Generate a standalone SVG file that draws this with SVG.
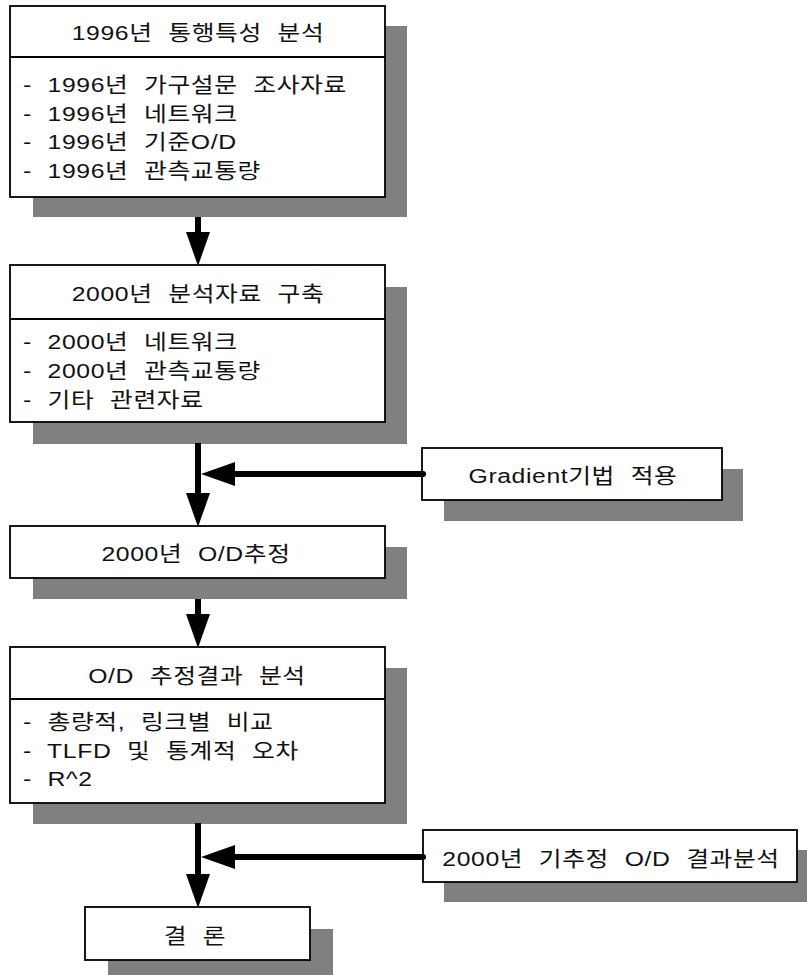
<svg xmlns="http://www.w3.org/2000/svg" width="807" height="975" viewBox="0 0 807 975">
<style>
  .shadow { fill: #808080; }
  .box { fill: #ffffff; stroke: #000000; stroke-width: 1.8; }
  .div { stroke: #000000; stroke-width: 1.8; }
  text { font-family: "Liberation Sans", "Noto Sans CJK KR", sans-serif; font-size: 21px; fill: #111111; letter-spacing: 0.5px; word-spacing: 7px; }
  .c { text-anchor: middle; }
  .shaft { stroke: #000000; stroke-width: 6; fill: none; }
  .side { stroke-linecap: round; }
</style>
<defs>
  <marker id="ah" markerUnits="userSpaceOnUse" markerWidth="34" markerHeight="24" viewBox="0 0 34 24" refX="0" refY="12" orient="auto">
    <path d="M0,0 L34,12 L0,24 Z" fill="#000000"/>
  </marker>
</defs>

<g id="node-1996">
  <rect class="shadow" x="33" y="26" width="374" height="191"/>
  <rect class="box" x="10" y="6" width="375" height="191"/>
  <line class="div" x1="10" y1="57" x2="385" y2="57"/>
  <text class="c" transform="matrix(1.18 0 0 1 198 40)">1996년 통행특성 분석</text>
  <text transform="matrix(1.18 0 0 1 23 92)">- 1996년 가구설문 조사자료</text>
  <text transform="matrix(1.18 0 0 1 23 121)">- 1996년 네트워크</text>
  <text transform="matrix(1.18 0 0 1 23 149)">- 1996년 기준O/D</text>
  <text transform="matrix(1.18 0 0 1 23 178)">- 1996년 관측교통량</text>
</g>

<g id="node-2000data">
  <rect class="shadow" x="33" y="287" width="374" height="157"/>
  <rect class="box" x="10" y="265" width="375" height="157"/>
  <line class="div" x1="10" y1="319" x2="385" y2="319"/>
  <text class="c" transform="matrix(1.18 0 0 1 198 301)">2000년 분석자료 구축</text>
  <text transform="matrix(1.18 0 0 1 23 349)">- 2000년 네트워크</text>
  <text transform="matrix(1.18 0 0 1 23 378)">- 2000년 관측교통량</text>
  <text transform="matrix(1.18 0 0 1 23 407)">- 기타 관련자료</text>
</g>

<g id="node-gradient">
  <rect class="shadow" x="444" y="469" width="299" height="52"/>
  <rect class="box" x="422" y="448" width="300" height="52"/>
  <text class="c" transform="matrix(1.18 0 0 1 573 483)">Gradient기법 적용</text>
</g>

<g id="node-2000od">
  <rect class="shadow" x="33" y="547" width="374" height="52"/>
  <rect class="box" x="10" y="526" width="375" height="52"/>
  <text class="c" transform="matrix(1.18 0 0 1 196 561)">2000년 O/D추정</text>
</g>

<g id="node-analysis">
  <rect class="shadow" x="33" y="668" width="374" height="156"/>
  <rect class="box" x="10" y="647" width="375" height="156"/>
  <line class="div" x1="10" y1="699" x2="385" y2="699"/>
  <text class="c" transform="matrix(1.18 0 0 1 197 683)">O/D 추정결과 분석</text>
  <text transform="matrix(1.18 0 0 1 23 729)">- 총량적, 링크별 비교</text>
  <text transform="matrix(1.18 0 0 1 23 758)">- TLFD 및 통계적 오차</text>
  <text transform="matrix(1.18 0 0 1 23 786)">- R^2</text>
</g>

<g id="node-prev">
  <rect class="shadow" x="444" y="850" width="363" height="52"/>
  <rect class="box" x="423" y="830" width="374" height="52"/>
  <text class="c" transform="matrix(1.18 0 0 1 611 866)">2000년 기추정 O/D 결과분석</text>
</g>

<g id="node-conclusion">
  <rect class="shadow" x="108" y="929" width="225" height="46"/>
  <rect class="box" x="85" y="907" width="225" height="53"/>
  <text class="c" transform="matrix(1.18 0 0 1 195 943)">결 론</text>
</g>

<g id="connectors">
  <line class="shaft" x1="198" y1="217" x2="198" y2="232" marker-end="url(#ah)"/>
  <line class="shaft" x1="198" y1="443" x2="198" y2="493" marker-end="url(#ah)"/>
  <line class="shaft" x1="198" y1="599" x2="198" y2="614" marker-end="url(#ah)"/>
  <line class="shaft" x1="198" y1="823" x2="198" y2="874" marker-end="url(#ah)"/>
  <line class="shaft side" x1="423" y1="474" x2="235" y2="474" marker-end="url(#ah)"/>
  <line class="shaft side" x1="423" y1="857" x2="235" y2="857" marker-end="url(#ah)"/>
</g>
</svg>
